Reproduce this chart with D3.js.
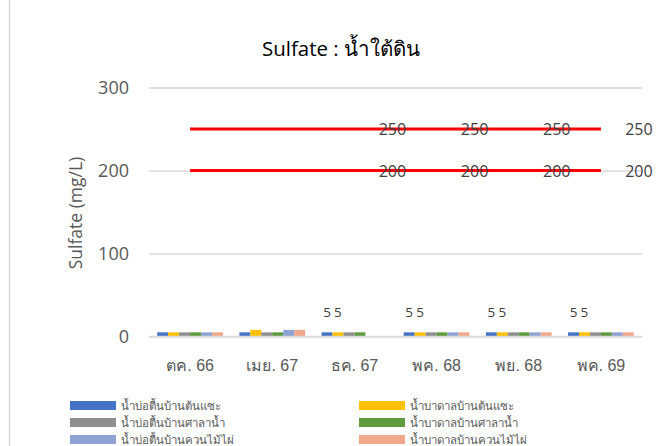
<!DOCTYPE html>
<html>
<head>
<meta charset="utf-8">
<script src="https://cdn.jsdelivr.net/npm/d3@7"></script>
<style>
  body { margin: 0; background: #fff; }
  svg { display: block; font-family: "Open Sans", "Noto Sans", sans-serif; }
</style>
</head>
<body>
<svg width="664" height="446"></svg>
<script>
// months (Thai short form)
const categories = ["ตค. 66", "เมย. 67", "ธค. 67", "พค. 68", "พย. 68", "พค. 69"];

const seriesNames = [
  "น้ำบ่อตื้นบ้านต้นแซะ", "น้ำบาดาลบ้านต้นแซะ",
  "น้ำบ่อตื้นบ้านศาลาน้ำ", "น้ำบาดาลบ้านศาลาน้ำ",
  "น้ำบ่อตื้นบ้านควนไม้ไผ่", "น้ำบาดาลบ้านควนไม้ไผ่"
];
const seriesColors = ["#4472c4", "#ffc000", "#8f8f8f", "#5f9a3c", "#8ea3d3", "#f0a88a"];

// sulfate values per series (null = not sampled)
const s1 = [5, 5, 5, 5, 5, 5];
const s2 = [5, 8, 5, 5, 5, 5];
const s3 = [5, 5, 5, 5, 5, 5];
const s4 = [5, 5, 5, 5, 5, 5];
const s5 = [5, 8, null, 5, 5, 5];
const s6 = [5, 8, null, 5, 5, 5];
const seriesValues = [s1, s2, s3, s4, s5, s6];

// standard limit lines
const limit250 = [250, 250, 250, 250, 250, 250];
const limit200 = [200, 200, 200, 200, 200, 200];
const limitLabelFrom = 2; // labels only shown from ธค. 67 on

const yTicks = [0, 100, 200, 300];

const svg = d3.select("svg");
const plotL = 149, plotR = 642, plotT = 87.5, plotB = 336.5;

const x = d3.scaleBand().domain(categories).range([plotL, plotR])
  .paddingInner(0.2).paddingOuter(0.1);
const xs = d3.scaleBand().domain(d3.range(seriesNames.length)).range([0, x.bandwidth()]);
const y = d3.scaleLinear().domain([0, 300]).range([plotB, plotT]);

// chart frame edge on the left
svg.append("line").attr("x1", 9.5).attr("x2", 9.5).attr("y1", 0).attr("y2", 446)
  .attr("stroke", "#d9d9d9").attr("stroke-width", 1.5);

// title
svg.append("text").attr("x", 341).attr("y", 56).attr("text-anchor", "middle")
  .attr("font-size", 20.5).attr("font-weight", 500).attr("fill", "#000")
  .text("Sulfate : น้ำใต้ดิน");

// gridlines + y labels
const yAxis = d3.axisLeft(y).tickValues(yTicks).tickSize(-(plotR - plotL)).tickPadding(20);
const gy = svg.append("g").attr("transform", `translate(${plotL},0)`).call(yAxis);
gy.select(".domain").remove();
gy.selectAll(".tick line").attr("stroke", "#d9d9d9").attr("stroke-width", 1.3);
gy.selectAll(".tick text").attr("font-size", 18).attr("fill", "#595959")
  .attr("font-family", "Open Sans, sans-serif");

// y axis title
svg.append("text").attr("transform", "translate(82,213) rotate(-90)")
  .attr("text-anchor", "middle").attr("font-size", 17.5).attr("fill", "#595959")
  .text("Sulfate (mg/L)");

// bars
seriesValues.forEach((vals, si) => {
  svg.append("g").selectAll("rect")
    .data(vals.map((v, i) => ({ v, c: categories[i] })).filter(d => d.v !== null))
    .enter().append("rect")
      .attr("x", d => x(d.c) + xs(si))
      .attr("width", xs.bandwidth())
      .attr("y", d => y(d.v))
      .attr("height", d => y(0) - y(d.v))
      .attr("fill", seriesColors[si]);
});

// x axis line + labels
const xAxis = d3.axisBottom(x).tickSize(0).tickPadding(23);
const gx = svg.append("g").attr("transform", `translate(0,${plotB})`).call(xAxis);
gx.select(".domain").attr("stroke", "#d9d9d9").attr("stroke-width", 1.5)
  .attr("d", `M${plotL},0H${plotR}`);
gx.selectAll(".tick text").attr("font-size", 16).attr("fill", "#595959");

// the odd "5 5" data labels above the first two bars
[s1, s2].forEach((vals, si) => {
  svg.append("g").selectAll("text")
    .data(vals.map((v, i) => ({ v, c: categories[i], i })).filter(d => d.i >= limitLabelFrom))
    .enter().append("text")
      .attr("x", d => x(d.c) + xs(si) + xs.bandwidth() / 2)
      .attr("y", d => y(d.v) - 15)
      .attr("text-anchor", "middle").attr("font-size", 13.5).attr("fill", "#404040")
      .text(d => d.v);
});

// limit lines
const cx = c => x(c) + x.bandwidth() / 2;
const line = d3.line().x((d, i) => cx(categories[i])).y(d => y(d));
[limit250, limit200].forEach(vals => {
  svg.append("path").datum(vals).attr("d", line)
    .attr("fill", "none").attr("stroke", "#ff0000").attr("stroke-width", 3);
  svg.append("g").selectAll("text")
    .data(vals.map((v, i) => ({ v, i })).filter(d => d.i >= limitLabelFrom))
    .enter().append("text")
      .attr("x", d => cx(categories[d.i]) + 38)
      .attr("y", d => y(d.v) + 6)
      .attr("text-anchor", "middle").attr("font-size", 16).attr("fill", "#404040")
      .text(d => d.v);
});

// legend, two columns
const legend = svg.append("g");
seriesNames.forEach((name, i) => {
  const col = i % 2, row = Math.floor(i / 2);
  const lx = col === 0 ? 70 : 359, ly = 401 + row * 17;
  legend.append("rect").attr("x", lx).attr("y", ly).attr("width", 46).attr("height", 9)
    .attr("fill", seriesColors[i]);
  legend.append("text").attr("x", lx + 51).attr("y", ly + 8.5)
    .attr("font-size", 11.5).attr("fill", "#595959").text(name);
});
</script>
</body>
</html>
